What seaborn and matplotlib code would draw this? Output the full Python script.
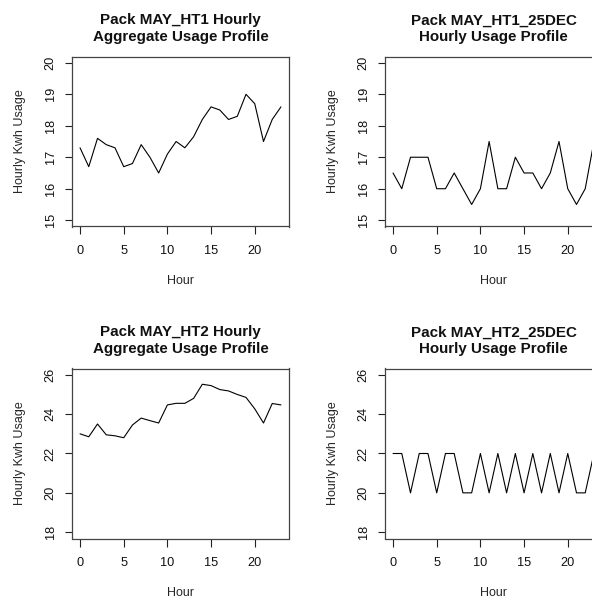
import pandas as pd
import matplotlib
matplotlib.use('Agg')
import matplotlib.pyplot as plt
import seaborn as sns

hours = list(range(24))

ht1 = [17.3, 16.7, 17.6, 17.4, 17.3, 16.7, 16.8, 17.4, 17.0, 16.5, 17.1, 17.5,
       17.3, 17.65, 18.2, 18.6, 18.5, 18.2, 18.3, 19.0, 18.7, 17.5, 18.2, 18.6]
ht1_25dec = [16.5, 16.0, 17.0, 17.0, 17.0, 16.0, 16.0, 16.5, 16.0, 15.5, 16.0, 17.5,
             16.0, 16.0, 17.0, 16.5, 16.5, 16.0, 16.5, 17.5, 16.0, 15.5, 16.0, 17.5]
ht2 = [23.0, 22.85, 23.5, 22.95, 22.9, 22.8, 23.45, 23.8, 23.67, 23.55, 24.47, 24.55,
       24.55, 24.8, 25.52, 25.45, 25.25, 25.18, 25.0, 24.85, 24.27, 23.55, 24.54, 24.47]
ht2_25dec = [22, 22, 20, 22, 22, 20, 22, 22, 20, 20, 22, 20,
             22, 20, 22, 20, 22, 20, 22, 20, 22, 20, 20, 22]

titles = ["Pack MAY_HT1 Hourly\nAggregate Usage Profile",
          "Pack MAY_HT1_25DEC\nHourly Usage Profile",
          "Pack MAY_HT2 Hourly\nAggregate Usage Profile",
          "Pack MAY_HT2_25DEC\nHourly Usage Profile"]
series = [ht1, ht1_25dec, ht2, ht2_25dec]
y_ranges = [(15, 20, 1), (15, 20, 1), (18, 26, 2), (18, 26, 2)]
x_ticks = [0, 5, 10, 15, 20]

sns.set_style('white')
plt.rcParams['font.family'] = ['Liberation Sans', 'DejaVu Sans']

W, H = 592, 602
fig = plt.figure(figsize=(W / 100, H / 100), dpi=100)

# panel boxes in pixels (left, top); the right column runs past the edge
boxes = [(72, 56.5), (385, 56.5), (72, 368.5), (385, 368.5)]
bw, bh = 217, 170

for (left, top), vals, title, (lo, hi, step) in zip(boxes, series, titles, y_ranges):
    ax = fig.add_axes([left / W, 1 - (top + bh) / H, bw / W, bh / H])
    df = pd.DataFrame({'Hour': hours, 'Usage': vals})
    sns.lineplot(data=df, x='Hour', y='Usage', ax=ax, color='black', linewidth=0.8)

    ax.set_xlim(-0.92, 23.92)
    pad = 0.04 * (hi - lo)
    ax.set_ylim(lo - pad, hi + pad)
    ax.set_xticks(x_ticks)
    ax.set_yticks(list(range(lo, hi + 1, step)))
    plt.setp(ax.get_yticklabels(), rotation=90, va='center')

    ax.tick_params(bottom=True, left=True, direction='out', length=5.4, width=0.8,
                   colors='#222222', labelsize=9.2, labelcolor='#111111')
    ax.tick_params(axis='x', pad=8.2)
    ax.tick_params(axis='y', pad=5.5)
    for sp in ax.spines.values():
        sp.set_visible(True)
        sp.set_color('#444444')
        sp.set_linewidth(0.9)

    ax.set_title(title, fontsize=10.9, fontweight='bold', pad=11, linespacing=1.25,
                 color='#111111')
    ax.set_xlabel('Hour', fontsize=9)
    ax.xaxis.set_label_coords(0.5, -0.285)
    ax.set_ylabel('Hourly Kwh Usage', fontsize=9)
    ax.yaxis.set_label_coords(-0.212, 0.5)

fig.savefig('out.png', dpi=100)
